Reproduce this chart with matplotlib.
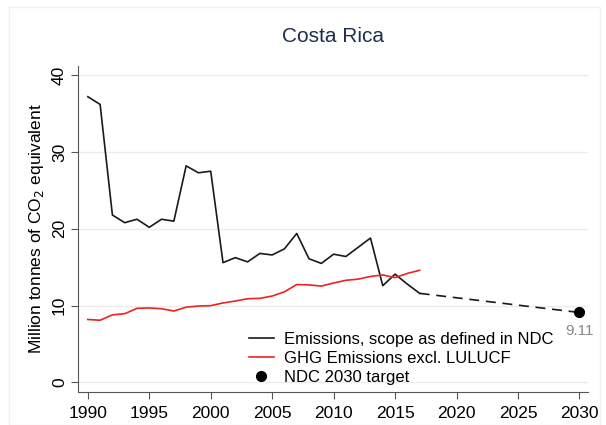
import matplotlib.pyplot as plt
from matplotlib.patches import Rectangle

plt.rcParams['font.family'] = ['Liberation Sans', 'DejaVu Sans']

# Data
years = list(range(1990, 2018))
ndc_scope = [37.2, 36.2, 21.8, 20.8, 21.25, 20.2, 21.25, 21.0, 28.2, 27.3,
             27.5, 15.6, 16.25, 15.7, 16.8, 16.6, 17.4, 19.4, 16.1, 15.5,
             16.7, 16.4, 17.6, 18.8, 12.6, 14.1, 12.8, 11.6]
ghg_excl = [8.2, 8.1, 8.8, 8.95, 9.65, 9.7, 9.6, 9.3, 9.8, 9.95,
            10.0, 10.35, 10.6, 10.9, 10.95, 11.25, 11.8, 12.75, 12.7, 12.55,
            12.95, 13.3, 13.45, 13.8, 14.0, 13.65, 14.2, 14.6]
target_year = 2030
target_value = 9.11

fig = plt.figure(figsize=(6.06, 4.25), dpi=100)
ax = fig.add_axes([0.1287, 0.0784, 0.8416, 0.7663])

# faint outer frame like the original graph region
fig.patches.append(Rectangle((0.015, 0.0), 0.975, 0.983, transform=fig.transFigure,
                             fill=False, edgecolor='#f0f0f0', linewidth=1))

ax.plot(years, ndc_scope, color='#1a1a1a', lw=1.2,
        label='Emissions, scope as defined in NDC')
ax.plot(years, ghg_excl, color='#ee2222', lw=1.2,
        label='GHG Emissions excl. LULUCF')
ax.plot([years[-1], target_year], [ndc_scope[-1], target_value],
        color='#1a1a1a', lw=1.2, ls=(0, (6, 4)))
ax.plot([target_year], [target_value], 'o', color='black', ms=7,
        label='NDC 2030 target', linestyle='none')
ax.annotate(f'{target_value:.2f}', (target_year, target_value),
            xytext=(0, -8), textcoords='offset points', ha='center', va='top',
            color='#888888', fontsize=11)

ax.set_xlim(1989.2, 2030.7)
ax.set_ylim(-1.2, 41.2)
ax.set_xticks(range(1990, 2031, 5))
ax.set_yticks(range(0, 41, 10))
ax.grid(axis='y', color='#ececec', lw=1)
ax.set_axisbelow(True)
for s in ['top', 'right']:
    ax.spines[s].set_visible(False)
for s in ['left', 'bottom']:
    ax.spines[s].set_color('#555555')
ax.tick_params(axis='both', labelsize=12.5, length=5, color='#555555', pad=3)
ax.tick_params(axis='x', pad=5)
plt.setp(ax.get_yticklabels(), rotation=90, va='center')
ax.set_ylabel('Million tonnes of CO$_2$ equivalent', fontsize=12.5, labelpad=4)

ax.set_title('Costa Rica', fontsize=15, color='#1f2d4f', pad=17)

ax.legend(loc='lower left', bbox_to_anchor=(0.318, -0.005), frameon=False,
          fontsize=12, handlelength=1.5, handletextpad=0.6, labelspacing=0.25,
          borderaxespad=0.1)

fig.savefig('out.png', dpi=100)
